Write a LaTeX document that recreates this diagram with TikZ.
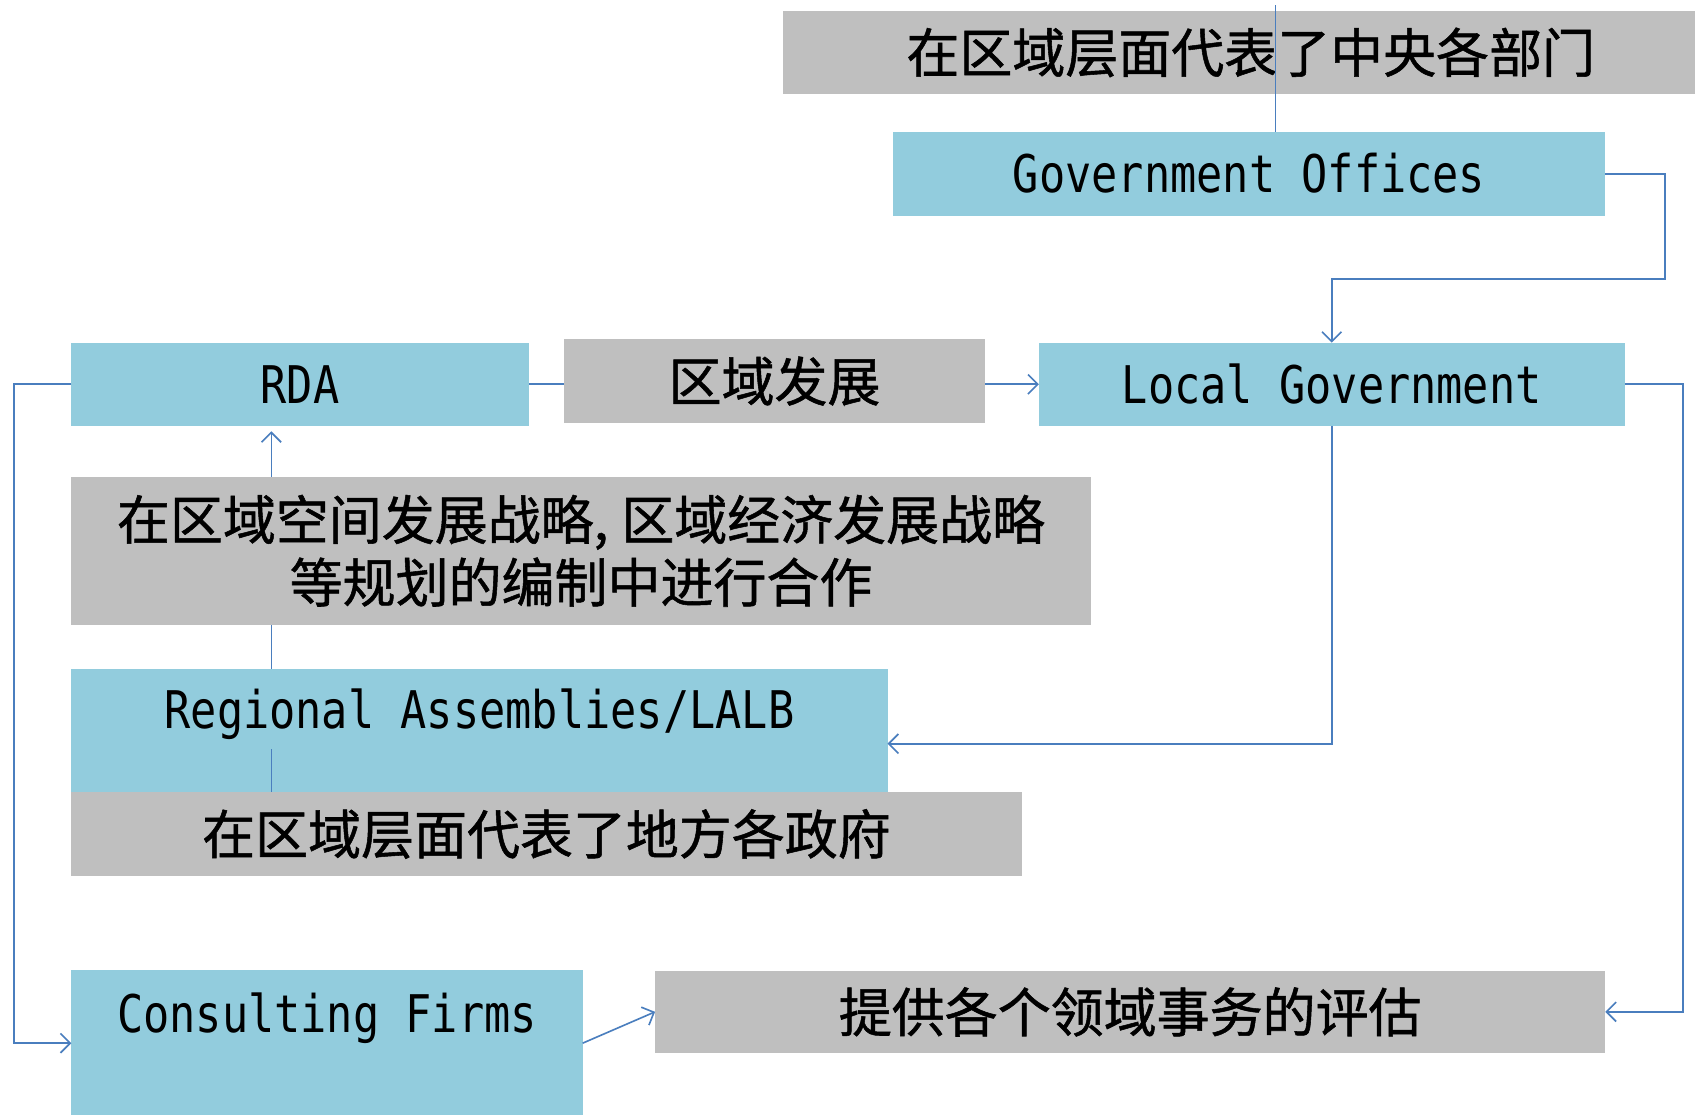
\documentclass[tikz,border=0pt]{standalone}
\usepackage{fontspec}
\newfontfamily\cjk[FakeBold=1]{Noto Sans CJK SC}
\newfontfamily\mono[FakeStretch=0.84]{DejaVu Sans Mono}
\usetikzlibrary{arrows.meta}
\pgfdeclarelayer{bg}
\pgfsetlayers{bg,main}
\definecolor{boxblue}{RGB}{146,204,221}
\definecolor{boxgray}{RGB}{191,191,191}
\definecolor{lineblue}{RGB}{74,126,190}
\begin{document}
\begin{tikzpicture}[x=1pt,y=-1pt,
  bluebox/.style={fill=boxblue, inner sep=0pt, outer sep=0pt, anchor=north west,
    font=\mono\fontsize{48}{58}\selectfont, text height=35pt, text depth=0pt},
  graybox/.style={fill=boxgray, inner sep=0pt, outer sep=0pt, anchor=north west,
    font=\cjk\fontsize{49}{58}\selectfont, align=center},
  conn/.style={draw=lineblue, line width=1.5pt},
  arr/.style={conn, -{Straight Barb[length=9pt,width=18pt,line width=1.5pt]}}
]
\useasboundingbox (0,0) rectangle (1568,1031);

% nodes
\node[graybox, minimum width=866pt, minimum height=77pt] (topg) at (724,10) {在区域层面代表了中央各部门};
\node[bluebox, minimum width=659pt, minimum height=78pt] (GO) at (826,122) {Government Offices};
\node[bluebox, minimum width=423pt, minimum height=77pt] (RDA) at (66,317) {RDA};
\node[graybox, minimum width=389pt, minimum height=77pt] (rd) at (522,314) {区域发展};
\node[bluebox, minimum width=542pt, minimum height=77pt] (LG) at (961,317) {Local Government};
\node[graybox, minimum width=943pt, minimum height=137pt] (coop) at (66,441) {在区域空间发展战略,\kern12pt区域经济发展战略\\等规划的编制中进行合作};
\node[bluebox, minimum width=755pt, minimum height=74pt] (RA) at (66,619) {Regional Assemblies/LALB};
\node[graybox, minimum width=879pt, minimum height=77pt] (locg) at (66,733) {在区域层面代表了地方各政府};
\node[bluebox, minimum width=473pt, text height=58pt, text depth=78pt] (CF) at (66,897) {Consulting Firms};
\node[graybox, minimum width=879pt, minimum height=76pt] (eval) at (606,898) {提供各个领域事务的评估};

\coordinate (topstart) at (1180,5);
\coordinate (goR) at (1540,258);
\coordinate (rR) at (1557,0);
\coordinate (lL) at (13,0);
\coordinate (upx) at (251,0);

\begin{pgfonlayer}{bg}
  \fill[white] (0,0) rectangle (1568,1031);
  \node[fill=boxblue, inner sep=0pt, outer sep=0pt, anchor=north west,
        minimum width=755pt, minimum height=138pt] (RAbox) at (66,619) {};
  \draw[arr] (RDA.east) -- (LG.west);
  \draw[arr, shorten >=5pt] (locg.north -| upx) -- (RDA.south -| upx);
\end{pgfonlayer}

% connectors
\draw[conn, line width=1pt] (topstart) -- (topstart |- GO.north);
\draw[arr] (GO.east) -| (goR) -| (LG.north);
\draw[arr] (LG.south) |- (RAbox.east);
\draw[arr] (LG.east) -| (rR |- eval.east) -- (eval.east);
\draw[arr] (RDA.west) -| (lL |- CF.west) -- (CF.west);
\draw[arr] (CF.east) -- (eval.west);
\end{tikzpicture}
\end{document}
